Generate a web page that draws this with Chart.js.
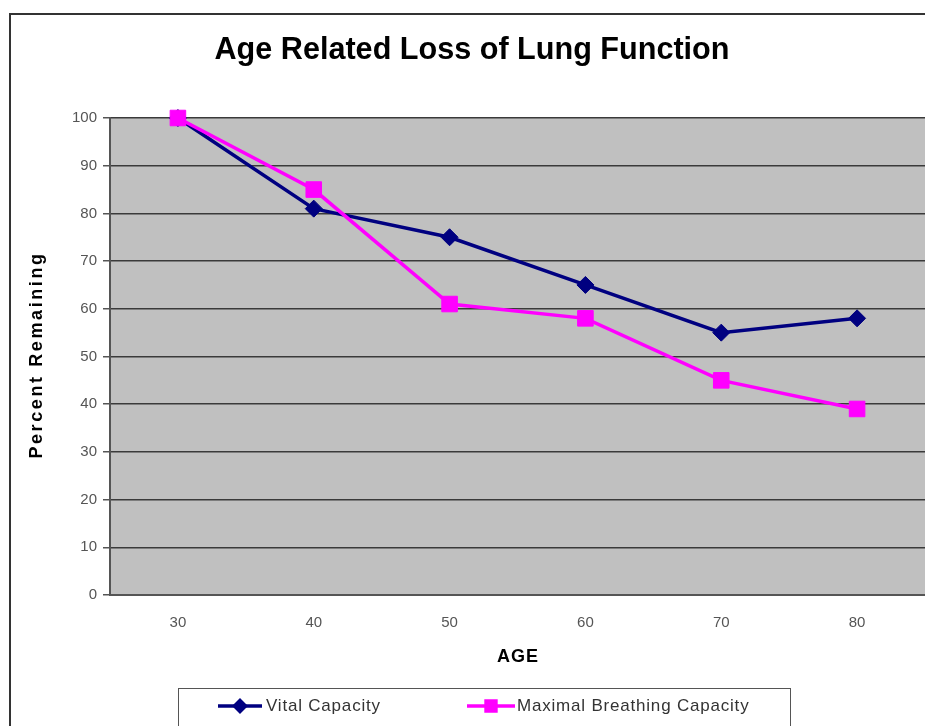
<!DOCTYPE html>
<html>
<head>
<meta charset="utf-8">
<script src="https://cdn.jsdelivr.net/npm/chart.js@4.4.1/dist/chart.umd.min.js"></script>
<style>
  html, body { margin:0; padding:0; background:#fff; overflow:hidden; }
  #wrap { width:925px; height:726px; position:relative; }
</style>
</head>
<body>
<div id="wrap"><canvas id="c" width="925" height="726"></canvas></div>
<script>
// ---- data ----
const ages = ['30', '40', '50', '60', '70', '80'];
const vitalCapacity = [100, 81, 75, 65, 55, 58];
const maximalBreathing = [100, 85, 61, 58, 45, 39];
const seriesNames = ['Vital Capacity', 'Maximal Breathing Capacity'];
const chartTitle = 'Age Related Loss of Lung Function';
const xTitle = 'AGE';
const yTitle = 'Percent Remaining';

const FONT = "'Liberation Sans', Arial, sans-serif";
const NAVY = '#000080';
const MAGENTA = '#ff00ff';

const decor = {
  id: 'decor',
  beforeDraw(chart) {
    const ctx = chart.ctx, a = chart.chartArea;
    ctx.save();
    ctx.fillStyle = '#c0c0c0';
    ctx.fillRect(a.left, a.top, a.right - a.left, a.bottom - a.top);
    ctx.strokeStyle = '#333';
    ctx.lineWidth = 2;
    ctx.beginPath();
    ctx.moveTo(10, 730);
    ctx.lineTo(10, 14);
    ctx.lineTo(930, 14);
    ctx.stroke();
    ctx.restore();
  },
  afterDraw(chart) {
    const ctx = chart.ctx;
    ctx.save();
    ctx.fillStyle = '#000';
    ctx.font = 'bold 30.6px ' + FONT;
    ctx.textAlign = 'center';
    ctx.textBaseline = 'alphabetic';
    ctx.fillText(chartTitle, 472, 59);
    ctx.font = 'bold 18px ' + FONT;
    ctx.letterSpacing = '1px';
    ctx.fillText(xTitle, 518, 662);
    ctx.save();
    ctx.translate(42, 355);
    ctx.rotate(-Math.PI / 2);
    ctx.letterSpacing = '2.6px';
    ctx.fillText(yTitle, 0, 0);
    ctx.restore();
    // legend
    ctx.letterSpacing = '0px';
    ctx.strokeStyle = '#555';
    ctx.lineWidth = 1;
    ctx.strokeRect(178.5, 688.5, 612, 60);
    const items = [
      { x0: 218, x1: 262, tx: 266 },
      { x0: 467, x1: 515, tx: 517 }
    ];
    const ly = 706;
    chart.data.datasets.forEach((ds, i) => {
      const it = items[i];
      ctx.strokeStyle = ds.borderColor;
      ctx.lineWidth = 3.5;
      ctx.beginPath();
      ctx.moveTo(it.x0, ly);
      ctx.lineTo(it.x1, ly);
      ctx.stroke();
      ctx.fillStyle = ds.pointBackgroundColor;
      ctx.strokeStyle = ds.pointBorderColor;
      Chart.helpers.drawPoint(ctx, {
        pointStyle: ds.pointStyle,
        radius: ds.pointStyle === 'rect' ? 7 : 5.5,
        rotation: 0,
        borderWidth: 1
      }, (it.x0 + it.x1) / 2, ly);
      ctx.fillStyle = '#333';
      ctx.font = '17px ' + FONT;
      ctx.textAlign = 'left';
      ctx.textBaseline = 'middle';
      ctx.letterSpacing = '0.8px';
      ctx.fillText(ds.label, it.tx, ly);
    });
    ctx.restore();
  }
};

new Chart(document.getElementById('c'), {
  type: 'line',
  data: {
    labels: ages,
    datasets: [
      {
        label: seriesNames[0],
        data: vitalCapacity,
        borderColor: NAVY,
        backgroundColor: NAVY,
        pointBackgroundColor: NAVY,
        pointBorderColor: NAVY,
        borderWidth: 3.5,
        pointStyle: 'rectRot',
        pointRadius: 8.5,
        pointBorderWidth: 1,
        tension: 0,
        clip: false,
        order: 2
      },
      {
        label: seriesNames[1],
        data: maximalBreathing,
        borderColor: MAGENTA,
        backgroundColor: MAGENTA,
        pointBackgroundColor: MAGENTA,
        pointBorderColor: MAGENTA,
        borderWidth: 3.5,
        pointStyle: 'rect',
        pointRadius: 11,
        pointBorderWidth: 1,
        tension: 0,
        clip: false,
        order: 1
      }
    ]
  },
  options: {
    responsive: false,
    animation: false,
    events: [],
    layout: { autoPadding: false, padding: { top: 118, right: 0, bottom: 0, left: 0 } },
    plugins: {
      legend: { display: false },
      title: { display: false },
      tooltip: { enabled: false }
    },
    scales: {
      x: {
        offset: true,
        grid: { display: false, drawTicks: false },
        border: { display: true, color: '#555', width: 2 },
        ticks: { color: '#555', font: { family: FONT, size: 15 }, padding: 19 },
        afterFit(s) { s.height = 131; s.paddingLeft = 0; s.paddingRight = 0; }
      },
      y: {
        min: 0,
        max: 100,
        grid: { color: '#3a3a3a', lineWidth: 1.5, drawTicks: true, tickLength: 7, tickColor: '#555' },
        border: { display: true, color: '#555', width: 2 },
        ticks: { stepSize: 10, color: '#555', font: { family: FONT, size: 15 }, padding: 6 },
        afterFit(s) { s.width = 110; s.paddingTop = 0; s.paddingBottom = 0; }
      }
    }
  },
  plugins: [decor]
});
</script>
</body>
</html>
